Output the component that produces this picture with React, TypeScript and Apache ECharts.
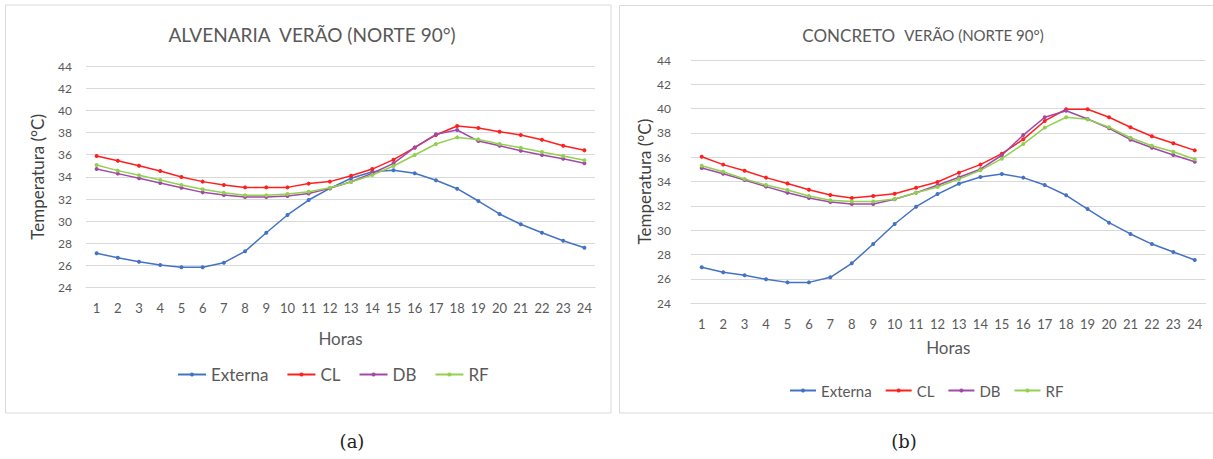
import React, { useEffect, useRef } from "react";
import * as echarts from "echarts";

const hours = ["1", "2", "3", "4", "5", "6", "7", "8", "9", "10", "11", "12", "13", "14", "15", "16", "17", "18", "19", "20", "21", "22", "23", "24"];
const seriesNames = ["Externa", "CL", "DB", "RF"];
const seriesColors = ["#4472C4", "#FF1F1F", "#A04AA8", "#92D050"];

// (a) Alvenaria
const alvExterna = [27.1, 26.7, 26.35, 26.05, 25.84, 25.84, 26.26, 27.28, 28.96, 30.56, 31.91, 32.96, 33.87, 34.46, 34.6, 34.32, 33.69, 32.93, 31.82, 30.65, 29.72, 28.96, 28.24, 27.61];
const alvCL = [35.88, 35.46, 35.0, 34.53, 33.99, 33.57, 33.26, 33.05, 33.05, 33.05, 33.39, 33.57, 34.1, 34.7, 35.55, 36.63, 37.78, 38.59, 38.41, 38.07, 37.78, 37.35, 36.81, 36.39];
const alvDB = [34.7, 34.29, 33.87, 33.44, 33.02, 32.6, 32.36, 32.18, 32.18, 32.27, 32.5, 32.96, 33.56, 34.32, 35.22, 36.66, 37.84, 38.23, 37.23, 36.81, 36.36, 35.97, 35.64, 35.22];
const alvRF = [35.07, 34.56, 34.14, 33.72, 33.26, 32.88, 32.57, 32.33, 32.33, 32.45, 32.66, 33.02, 33.54, 34.17, 34.98, 35.97, 36.96, 37.56, 37.38, 36.96, 36.63, 36.24, 35.88, 35.49];

// (b) Concreto
const conExterna = [26.96, 26.55, 26.3, 25.97, 25.72, 25.72, 26.14, 27.29, 28.87, 30.52, 31.94, 32.98, 33.83, 34.38, 34.63, 34.33, 33.72, 32.88, 31.75, 30.63, 29.7, 28.87, 28.22, 27.56];
const conCL = [36.05, 35.4, 34.9, 34.33, 33.84, 33.34, 32.9, 32.66, 32.82, 33.01, 33.5, 33.97, 34.74, 35.4, 36.3, 37.48, 38.99, 39.95, 39.95, 39.29, 38.47, 37.73, 37.15, 36.57];
const conDB = [35.12, 34.65, 34.14, 33.59, 33.09, 32.66, 32.33, 32.16, 32.16, 32.55, 33.09, 33.7, 34.36, 35.02, 36.17, 37.83, 39.29, 39.83, 39.15, 38.39, 37.45, 36.79, 36.19, 35.64];
const conRF = [35.31, 34.82, 34.22, 33.72, 33.31, 32.82, 32.47, 32.36, 32.36, 32.57, 33.09, 33.56, 34.22, 34.93, 35.89, 37.09, 38.44, 39.29, 39.12, 38.47, 37.61, 36.95, 36.46, 35.84];

const yMin = 24;
const yMax = 44;
const yStep = 2;

const alvData = [alvExterna, alvCL, alvDB, alvRF];
const conData = [conExterna, conCL, conDB, conRF];

const FONT = "Lato";
const GRAY = "#595959";

function makeX(gridIndex: number, labelMargin: number, nameGap: number) {
  return {
    type: "category",
    gridIndex,
    data: hours,
    boundaryGap: true,
    axisLine: { show: true, lineStyle: { color: "#D9D9D9" } },
    axisTick: { show: false },
    axisLabel: { color: GRAY, fontSize: 13, fontFamily: FONT, margin: labelMargin },
    name: "Horas",
    nameLocation: "middle",
    nameGap,
    nameTextStyle: { color: GRAY, fontSize: 17, fontFamily: FONT },
  };
}

function makeY(gridIndex: number, labelMargin: number, nameGap: number) {
  return {
    type: "value",
    gridIndex,
    min: yMin,
    max: yMax,
    interval: yStep,
    axisLine: { show: false },
    axisTick: { show: false },
    splitLine: { lineStyle: { color: "#D9D9D9", width: 1 } },
    axisLabel: { color: GRAY, fontSize: 12, fontFamily: FONT, margin: labelMargin },
    name: "Temperatura (°C)",
    nameLocation: "middle",
    nameGap,
    nameRotate: 90,
    nameTextStyle: { color: "#404040", fontSize: 17, fontFamily: FONT },
  };
}

export default function App() {
  const ref = useRef<HTMLDivElement>(null);
  useEffect(() => {
    if (!ref.current) return;
    const chart = echarts.init(ref.current, undefined, { renderer: "svg" });
    const series: any[] = [];
    [alvData, conData].forEach((set, gi) => {
      set.forEach((vals, i) => {
        series.push({
          type: "line",
          name: seriesNames[i],
          xAxisIndex: gi,
          yAxisIndex: gi,
          data: vals,
          symbol: "circle",
          symbolSize: 4,
          color: seriesColors[i],
          lineStyle: { width: 1.5, color: seriesColors[i] },
          itemStyle: { color: seriesColors[i] },
        });
      });
    });
    chart.setOption({
      animation: false,
      backgroundColor: "#ffffff",
      title: [
        {
          text: "ALVENARIA  VERÃO (NORTE 90°)",
          left: 307,
          top: 20,
          textAlign: "center",
          textStyle: { color: GRAY, fontSize: 19, fontWeight: "normal", fontFamily: FONT },
        },
        {
          text: "{a|CONCRETO}  {b|VERÃO (NORTE 90°)}",
          left: 918,
          top: 21,
          textAlign: "center",
          textStyle: {
            fontFamily: FONT,
            fontWeight: "normal",
            rich: {
              a: { color: GRAY, fontSize: 17, fontFamily: FONT, fontWeight: "normal" },
              b: { color: GRAY, fontSize: 15, fontFamily: FONT, fontWeight: "normal" },
            },
          },
        },
      ],
      legend: [
        {
          data: seriesNames,
          left: 177,
          top: 366,
          padding: 0,
          itemWidth: 28,
          itemHeight: 5,
          itemGap: 18,
          textStyle: { color: GRAY, fontSize: 17, fontFamily: FONT },
        },
        {
          data: seriesNames,
          left: 789,
          top: 383,
          padding: 0,
          itemWidth: 26,
          itemHeight: 5,
          itemGap: 13,
          textStyle: { color: GRAY, fontSize: 15, fontFamily: FONT },
        },
      ],
      grid: [
        { left: 86, top: 66, width: 509, height: 221.7 },
        { left: 691, top: 60, width: 514.5, height: 243.3 },
      ],
      xAxis: [makeX(0, 14, 42), makeX(1, 14, 36)],
      yAxis: [makeY(0, 14, 40), makeY(1, 20, 35)],
      series,
      graphic: [
        {
          type: "rect",
          shape: { x: 5.5, y: 5, width: 605.5, height: 408 },
          style: { fill: "none", stroke: "#D9D9D9", lineWidth: 1 },
          silent: true,
        },
        {
          type: "rect",
          shape: { x: 619.5, y: 5.5, width: 600, height: 407.5 },
          style: { fill: "none", stroke: "#D9D9D9", lineWidth: 1 },
          silent: true,
        },
        {
          type: "text",
          x: 352,
          y: 441,
          style: { text: "(a)", fill: "#222", fontSize: 18, fontFamily: "DejaVu Serif", align: "center", verticalAlign: "middle" },
        },
        {
          type: "text",
          x: 904,
          y: 441,
          style: { text: "(b)", fill: "#222", fontSize: 18, fontFamily: "DejaVu Serif", align: "center", verticalAlign: "middle" },
        },
      ],
    });
    return () => chart.dispose();
  }, []);
  return (
    <div
      ref={ref}
      style={{ position: "absolute", left: 0, top: 0, width: 1213, height: 459 }}
    />
  );
}
